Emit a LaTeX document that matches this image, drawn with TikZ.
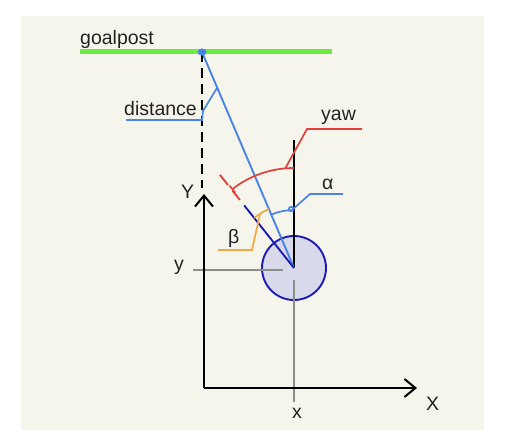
\documentclass[tikz,border=0pt]{standalone}
\usepackage{fontspec}
\setmainfont{Liberation Sans}
\usetikzlibrary{arrows.meta,calc}
\definecolor{cream}{HTML}{F6F5EC}
\definecolor{grass}{HTML}{6EEA44}
\definecolor{skyblue}{HTML}{4A84E2}
\definecolor{navy}{HTML}{1C1CB4}
\definecolor{redline}{HTML}{E0403C}
\definecolor{amber}{HTML}{F2A844}
\definecolor{lavender}{HTML}{D9D9EC}
\definecolor{ink}{HTML}{222222}
\tikzstyle{txt} = [font=\fontsize{19.5}{22}\selectfont, text=ink, inner sep=0pt, anchor=base west]
\tikzstyle{axis} = [line width=2pt, draw=black, -{Straight Barb[length=11pt,width=18pt,line width=2pt]}]
\tikzstyle{guide} = [line width=2pt, draw=gray!90]
\tikzstyle{leader} = [line width=1.7pt]
\tikzstyle{robotbody} = [circle, draw=navy, fill=lavender, line width=1.9pt, minimum size=64pt, inner sep=0pt]

\begin{document}
\begin{tikzpicture}[x=1pt, y=-1pt]
\useasboundingbox (0,0) rectangle (509,443);
\fill [cream] (21,16) rectangle (484,430);

\coordinate (gl) at (80,52);
\coordinate (gr) at (332,52);
\coordinate (goal) at (202,52);
\coordinate (o) at (204,388);
\coordinate (yend) at (204,194);
\coordinate (xend) at (417,388);
\coordinate (dashend) at (202,188);

\node (robot) [robotbody] at (294,268) {};
\coordinate (c) at (294,268);

\node (goalpost) [txt] at (80,45) {goalpost};
\node (dist) [txt] at (124,116) {distance};
\node (yaw) [txt] at (321,121) {yaw};
\node (alpha) [txt] at (322,190) {α};
\node (beta) [txt] at (228,244) {β};
\node (ylab) [txt] at (174,271) {y};
\node (xlab) [txt] at (292,419) {x};
\node (Xlab) [txt] at (426,411) {X};
\node (Ylab) [txt] at (181,199) {Y};

\draw [grass, line width=5pt] (gl) -- (gr);
\draw [black, line width=2pt, dash pattern=on 10pt off 6pt] (goal) -- (dashend);

\draw [guide] (193,270) -- (283,270);
\draw [guide] (294,280) -- (294,402);

\draw [axis] (o) -- (yend);
\draw [axis] (o) -- (xend);

\draw [black, line width=1.9pt] (294,140) -- (c);
\draw [skyblue, line width=1.9pt] (goal) -- (c);
\draw [navy, line width=1.9pt] (c) -- ($(c)+(-128.5:80)$);
\draw [redline, line width=1.9pt] ($(c)+(-128.5:87)$) -- ($(c)+(-128.5:99)$);
\draw [redline, line width=1.9pt] ($(c)+(-128.5:106)$) -- ($(c)+(-128.5:119)$);

\fill [skyblue] (goal) ellipse [x radius=4.5, y radius=3.5];

% angles
\draw [redline, leader, -{Bar[width=9pt]}] ($(c)+(-90:100)$) arc [start angle=-90, end angle=-128.5, radius=100];
\draw [skyblue, leader] ($(c)+(-90:58)$) arc [start angle=-90, end angle=-113.1, radius=58];
\draw [skyblue, leader] ($(c)+(-90:58)+(-3,-1)$) circle [radius=2.2];
\draw [amber, leader] ($(c)+(-113.1:64)$) arc [start angle=-113.1, end angle=-128.5, radius=64];

% leaders
\draw [skyblue, leader] (126,120) -- (202,120) -- (203,111) -- (217,88);
\draw [redline, leader] ($(c)+(-95:100)$) -- (307,129) -- (362,129);
\draw [skyblue, leader] ($(c)+(-92:58)$) -- (310,194) -- (343,194);
\draw [amber, leader] ($(c)+(-122:64)$) -- (252,250) -- (218,250);
\end{tikzpicture}
\end{document}
